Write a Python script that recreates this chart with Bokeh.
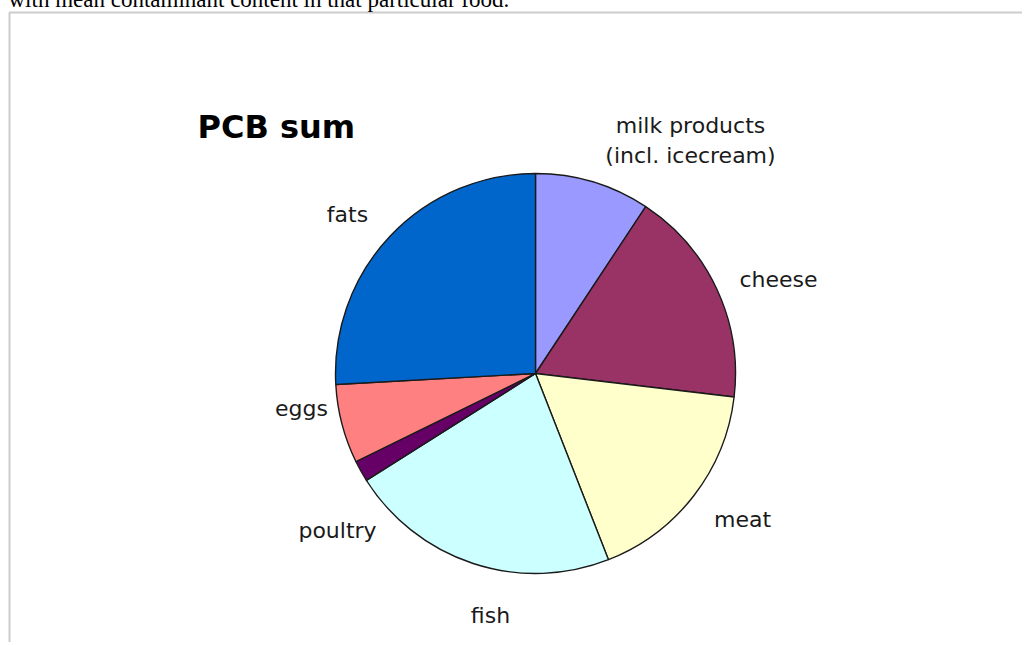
import numpy as np
from bokeh.plotting import figure
from bokeh.models import ColumnDataSource, Range1d
from bokeh.core.properties import value
from bokeh.embed import file_html
from bokeh.resources import INLINE

# ---- data ----
categories = ["milk products\n(incl. icecream)", "cheese", "meat", "fish", "poultry", "eggs", "fats"]
shares = [9.3, 17.6, 17.2, 22.0, 1.7, 6.4, 25.9]
colors = ["#9999FF", "#993366", "#FFFFCC", "#CCFFFF", "#660066", "#FF8080", "#0066CC"]
title_text = "PCB sum"
intro_text = "with mean contaminant content in that particular food."

W, H = 1022, 650
p = figure(width=W, height=H, output_backend="svg", toolbar_location=None,
           x_range=Range1d(0, W), y_range=Range1d(0, H), min_border=0,
           outline_line_color=None, background_fill_color="white")
p.axis.visible = False
p.grid.visible = False
p.styles = {"margin-top": "-8px"}

def px(x):
    return x

def py(y):
    return H - y - 8

# box border
p.line([px(9), px(9), px(1060)], [py(700), py(12), py(12)], line_color="#cccccc", line_width=2)

# pie
frac = np.array(shares) / sum(shares)
cum = np.concatenate([[0], np.cumsum(frac)])
start = np.pi / 2 - 2 * np.pi * cum[:-1]
end = np.pi / 2 - 2 * np.pi * cum[1:]
src = ColumnDataSource(dict(start=start, end=end, color=colors, name=categories))
p.wedge(x=px(535), y=py(373), radius=200, start_angle="start", end_angle="end",
        direction="clock", fill_color="color", line_color="#1a1a1a", line_width=1.4, source=src)

font = value("DejaVu Sans")
shift = 8
label_pos = {
    "cheese": (778, 287),
    "meat": (742, 527),
    "fish": (490, 623),
    "poultry": (337, 538),
    "eggs": (301, 416),
    "fats": (347, 222),
}
lx, ly, lt = [], [], []
for c in categories:
    if c in label_pos:
        x, y = label_pos[c]
        lx.append(px(x)); ly.append(py(y - shift)); lt.append(c)
milk_lines = categories[0].split("\n")
lx += [px(690), px(690)]
ly += [py(133 - shift), py(163 - shift)]
lt += milk_lines
p.text(x=lx, y=ly, text=lt, text_font=font, text_font_size="22px", text_color="#1a1a1a",
       text_align="center", text_baseline="alphabetic")

p.text(x=[px(197)], y=[py(137 - 11)], text=[title_text], text_font=font, text_font_size="32px",
       text_font_style="bold", text_color="black", text_align="left", text_baseline="alphabetic")

p.text(x=[px(8)], y=[py(7 - 8)], text=[intro_text], text_font=value("Liberation Serif"),
       text_font_size="23px", text_color="black", text_align="left", text_baseline="alphabetic")

open("out.html", "w").write(file_html(p, INLINE))
